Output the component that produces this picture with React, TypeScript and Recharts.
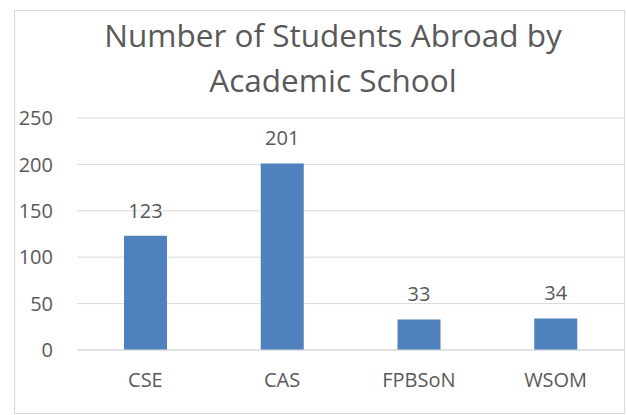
import { Bar, BarChart, CartesianGrid, LabelList, XAxis, YAxis } from "recharts";

const schools = ["CSE", "CAS", "FPBSoN", "WSOM"];
const students = [123, 201, 33, 34];
const yTicks = [0, 50, 100, 150, 200, 250];
const titleLines = ["Number of Students Abroad by", "Academic School"];

const TEXT = "#595959";
const GRID = "#d9d9d9";
const BAR = "#4f81bd";

const rows = schools.map((school, i) => ({ school, students: students[i] }));

export default function App() {
  return (
    <div
      style={{
        position: "absolute",
        left: 0,
        top: 0,
        width: 626,
        height: 415,
        background: "#fff",
        fontFamily: "'Open Sans', sans-serif",
      }}
    >
      <div
        style={{
          position: "absolute",
          left: 14,
          top: 10,
          width: 611,
          height: 404,
          boxSizing: "border-box",
          border: `1px solid ${GRID}`,
        }}
      />
      <svg width={626} height={110} style={{ position: "absolute", left: 0, top: 0 }}>
        {titleLines.map((line, i) => (
          <text key={line} x={333} y={47 + i * 45} textAnchor="middle" fontSize={31.5} fill={TEXT}>
            {line}
          </text>
        ))}
      </svg>
      <div style={{ position: "absolute", left: 0, top: 0 }}>
        <BarChart
          width={626}
          height={415}
          data={rows}
          margin={{ top: 118, right: 2, bottom: 35, left: 0 }}
        >
          <CartesianGrid stroke={GRID} vertical={false} />
          <XAxis
            dataKey="school"
            height={30}
            stroke={GRID}
            tickLine={false}
            tickSize={0}
            tickMargin={23}
            tick={{ fill: TEXT, fontSize: 20 }}
          />
          <YAxis
            domain={[0, 250]}
            ticks={yTicks}
            width={77}
            axisLine={false}
            tickLine={false}
            tickSize={0}
            tickMargin={24}
            tick={{ fill: TEXT, fontSize: 20 }}
          />
          <Bar dataKey="students" fill={BAR} barSize={43} isAnimationActive={false}>
            <LabelList dataKey="students" position="top" offset={18} fill={TEXT} fontSize={20} />
          </Bar>
        </BarChart>
      </div>
    </div>
  );
}
